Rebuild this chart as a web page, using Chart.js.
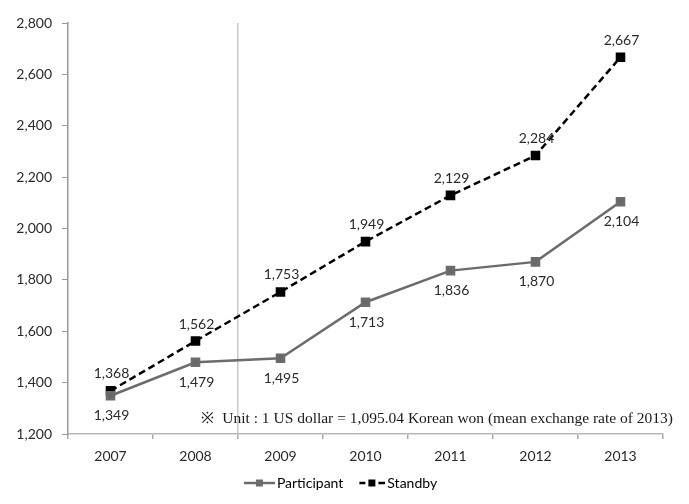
<!DOCTYPE html>
<html>
<head>
<meta charset="utf-8">
<script src="https://cdn.jsdelivr.net/npm/chart.js@4.4.0/dist/chart.umd.min.js"></script>
<style>
html, body { margin: 0; padding: 0; background: #fff; }
#wrap { width: 689px; height: 504px; }
</style>
</head>
<body>
<div id="wrap"><canvas id="chart"></canvas></div>
<script>
// chart values
const years = ['2007', '2008', '2009', '2010', '2011', '2012', '2013'];
const participant = [1349, 1479, 1495, 1713, 1836, 1870, 2104];
const standby = [1368, 1562, 1753, 1949, 2129, 2284, 2667];
const yMin = 1200, yMax = 2800, yStep = 200;
const note = '\u203B  Unit : 1 US dollar = 1,095.04 Korean won (mean exchange rate of 2013)';

const fmt = v => v.toLocaleString('en-US');

// line + square icon for the legend, drawn against the right edge of the canvas
function legendIcon(color, dashed) {
    const c = document.createElement('canvas');
    c.width = 36; c.height = 12;
    const g = c.getContext('2d');
    g.strokeStyle = color;
    g.fillStyle = color;
    g.lineWidth = 2.5;
    g.beginPath();
    if (dashed) {
        // "-■-"
        g.moveTo(10, 6); g.lineTo(16, 6);
        g.moveTo(29, 6); g.lineTo(36, 6);
        g.stroke();
        g.fillRect(19, 2.5, 7, 7);
    } else {
        g.moveTo(5, 6); g.lineTo(36, 6);
        g.stroke();
        g.fillRect(17, 2.5, 7, 7);
    }
    return c;
}

const valueLabels = {
    id: 'valueLabels',
    afterDatasetsDraw(chart) {
        const ctx = chart.ctx;
        ctx.save();
        ctx.font = '14px Lato';
        ctx.fillStyle = '#2a2a2a';
        ctx.textAlign = 'center';
        ctx.textBaseline = 'middle';
        chart.data.datasets.forEach((ds, i) => {
            const meta = chart.getDatasetMeta(i);
            meta.data.forEach((pt, j) => {
                ctx.fillText(fmt(ds.data[j]), pt.x + 1, pt.y + ds.labelOffset);
            });
        });
        ctx.restore();
    }
};

const notePlugin = {
    id: 'notePlugin',
    afterLayout(chart) {
        // nudge the legend to sit under the middle of the plot like the original
        chart.legend.left += 9;
        chart.legend.right += 9;
    },
    afterDraw(chart) {
        const ctx = chart.ctx;
        const a = chart.chartArea;
        ctx.save();
        ctx.font = '15.5px "Liberation Serif", "DejaVu Serif", serif';
        ctx.fillStyle = '#1a1a1a';
        ctx.textAlign = 'right';
        ctx.textBaseline = 'middle';
        ctx.fillText(note, a.right + 10, a.bottom - 15);
        ctx.restore();
    }
};

const data = {
    labels: years,
    datasets: [
        {
            label: 'Participant',
            data: participant,
            borderColor: '#6c6c6c',
            backgroundColor: '#686868',
            borderWidth: 2.5,
            pointStyle: 'rect',
            pointRadius: 5,
            pointHoverRadius: 5,
            labelOffset: 20,
            legendIcon: legendIcon('#6c6c6c', false)
        },
        {
            label: 'Standby',
            data: standby,
            borderColor: '#000',
            backgroundColor: '#000',
            borderWidth: 2.5,
            borderDash: [7, 4],
            pointStyle: 'rect',
            pointRadius: 5,
            pointHoverRadius: 5,
            labelOffset: -17,
            legendIcon: legendIcon('#000', true)
        }
    ]
};

const config = {
    type: 'line',
    data: data,
    options: {
        responsive: true,
        maintainAspectRatio: false,
        animation: false,
        layout: { padding: { left: 0, right: 26, top: 23, bottom: 4 } },
        plugins: {
            tooltip: { enabled: false },
            legend: {
                position: 'bottom',
                labels: {
                    usePointStyle: true,
                    pointStyleWidth: 26,
                    padding: 11,
                    color: '#1a1a1a',
                    font: { family: 'Lato', size: 14 },
                    generateLabels(chart) {
                        return chart.data.datasets.map((ds, i) => ({
                            text: ds.label,
                            pointStyle: ds.legendIcon,
                            fillStyle: ds.borderColor,
                            strokeStyle: ds.borderColor,
                            lineWidth: 0,
                            hidden: false,
                            datasetIndex: i
                        }));
                    }
                }
            }
        },
        scales: {
            x: {
                offset: true,
                grid: {
                    offset: true,
                    drawOnChartArea: true,
                    color: c => c.index === 2 ? '#c8c8c8' : 'rgba(0,0,0,0)',
                    lineWidth: 1.5,
                    tickColor: '#a8a8a8',
                    tickLength: 5
                },
                border: { color: '#b8b8b8', width: 1.5 },
                ticks: {
                    color: '#2a2a2a',
                    padding: 9,
                    font: { family: 'Lato', size: 14 }
                },
                afterFit(scale) { scale.height = 31; }
            },
            y: {
                min: yMin,
                max: yMax,
                grid: {
                    drawOnChartArea: false,
                    tickColor: '#999',
                    tickLength: 6
                },
                border: { color: '#9a9a9a', width: 1.5 },
                ticks: {
                    stepSize: yStep,
                    color: '#2a2a2a',
                    padding: 10,
                    font: { family: 'Lato', size: 14 },
                    callback: v => fmt(v)
                },
                afterFit(scale) { scale.width = 68; }
            }
        }
    },
    plugins: [valueLabels, notePlugin]
};

window.onload = function() {
    const ctx = document.getElementById('chart').getContext('2d');
    window.myLine = new Chart(ctx, config);
};
</script>
</body>
</html>
